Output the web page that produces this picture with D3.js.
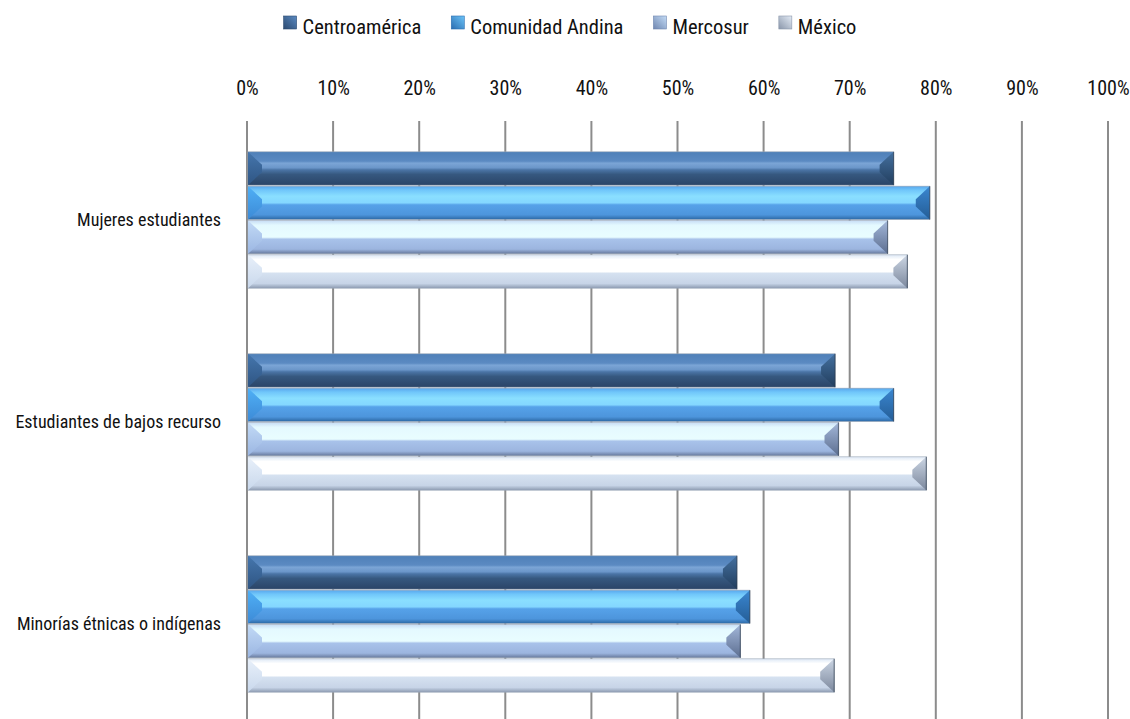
<!DOCTYPE html>
<html>
<head>
<meta charset="utf-8">
<script src="https://cdn.jsdelivr.net/npm/d3@7"></script>
<style>
  body { margin: 0; background: #fff; }
  text { font-family: "Roboto Condensed", Roboto, sans-serif; font-stretch: condensed; fill: #111; }
</style>
</head>
<body>
<svg id="chart" width="1130" height="719"></svg>
<script>
var categories = ["Mujeres estudiantes", "Estudiantes de bajos recurso", "Minorías étnicas o indígenas"];
var seriesNames = ["Centroamérica", "Comunidad Andina", "Mercosur", "México"];
var centroamerica = [0.751, 0.683, 0.569];
var comunidadAndina = [0.793, 0.751, 0.584];
var mercosur = [0.744, 0.687, 0.573];
var mexico = [0.767, 0.789, 0.682];
var tickValues = [0, 0.1, 0.2, 0.3, 0.4, 0.5, 0.6, 0.7, 0.8, 0.9, 1];

var seriesValues = [centroamerica, comunidadAndina, mercosur, mexico];

// bevel colours per series: face gradient stops, left end, right end (top/bottom)
var looks = [
  { face: [["0%", "#4f80b8"], ["28%", "#5b8ac2"], ["34%", "#7ba5d6"], ["48%", "#6b96c9"], ["54%", "#4b75a6"], ["68%", "#36587f"], ["100%", "#2a4467"]],
    left: ["#4576ad", "#2f5583"], right: ["#44709f", "#223e5e"] },
  { face: [["0%", "#58a6ec"], ["12%", "#70c6fa"], ["30%", "#8adfff"], ["50%", "#84d7ff"], ["56%", "#56a2e9"], ["86%", "#4d95dc"], ["100%", "#2c68a4"]],
    left: ["#4fb0f6", "#3d8ad6"], right: ["#3a86d0", "#245d96"] },
  { face: [["0%", "#c6dcf5"], ["14%", "#e4f9ff"], ["50%", "#e9fdff"], ["56%", "#a8c2ea"], ["86%", "#9cb5df"], ["100%", "#65779a"]],
    left: ["#c2daf6", "#9bb6e2"], right: ["#a3b7d9", "#5c6e90"] },
  { face: [["0%", "#dde8f5"], ["14%", "#ffffff"], ["50%", "#ffffff"], ["56%", "#d5e1f0"], ["86%", "#c7d4e7"], ["100%", "#8d9bb1"]],
    left: ["#e8f0fa", "#c9d8ec"], right: ["#cbd5e3", "#7c889d"] }
];
var legendDark = ["#2c4a70", "#2a6cb0", "#6f86b0", "#8a96aa"];
var legendLight = ["#5b8ac2", "#6cc4f8", "#c4dcf6", "#e4ecf6"];

var svg = d3.select("#chart");
var defs = svg.append("defs");

looks.forEach(function (lk, i) {
  var g = defs.append("linearGradient").attr("id", "face" + i)
    .attr("x1", 0).attr("y1", 0).attr("x2", 0).attr("y2", 1);
  lk.face.forEach(function (s) { g.append("stop").attr("offset", s[0]).attr("stop-color", s[1]); });
  ["left", "right"].forEach(function (side) {
    var e = defs.append("linearGradient").attr("id", side + i)
      .attr("x1", 0).attr("y1", 0).attr("x2", 0).attr("y2", 1);
    e.append("stop").attr("offset", "0%").attr("stop-color", lk[side][0]);
    e.append("stop").attr("offset", "100%").attr("stop-color", lk[side][1]);
  });
  var m = defs.append("linearGradient").attr("id", "mark" + i)
    .attr("x1", 0).attr("y1", 1).attr("x2", 1).attr("y2", 0);
  m.append("stop").attr("offset", "0%").attr("stop-color", legendDark[i]);
  m.append("stop").attr("offset", "100%").attr("stop-color", legendLight[i]);
});

var x = d3.scaleLinear().domain([0, 1]).range([247, 1108]);
var y = d3.scaleBand().domain(categories).range([119, 725]).paddingInner(0.32).paddingOuter(0.16);
var ys = d3.scaleBand().domain(seriesNames).range([0, y.bandwidth()]);

// grid lines
svg.append("g")
  .selectAll("line")
  .data(tickValues)
  .enter().append("line")
  .attr("x1", function (d) { return x(d); })
  .attr("x2", function (d) { return x(d); })
  .attr("y1", 121)
  .attr("y2", 725)
  .attr("stroke", "#8c8c8c")
  .attr("stroke-width", 2);

// top tick labels
var xAxis = svg.append("g")
  .attr("transform", "translate(0,121)")
  .call(d3.axisTop(x).tickValues(tickValues).tickFormat(d3.format(".0%")).tickSize(0).tickPadding(26));
xAxis.select(".domain").remove();
xAxis.selectAll("text").style("font-size", "20px").attr("fill", "#111")
  .style("font-family", "'Roboto Condensed', Roboto, sans-serif");

// category labels
var yAxis = svg.append("g")
  .attr("transform", "translate(221,0)")
  .call(d3.axisLeft(y).tickSize(0).tickPadding(0));
yAxis.select(".domain").remove();
yAxis.selectAll("text").style("font-size", "18px").attr("fill", "#111")
  .style("font-family", "'Roboto Condensed', Roboto, sans-serif");

// bars
var bars = [];
categories.forEach(function (c, ci) {
  seriesNames.forEach(function (s, si) {
    bars.push({ cat: c, series: s, si: si, value: seriesValues[si][ci] });
  });
});

var barG = svg.append("g").selectAll("g.bar")
  .data(bars)
  .enter().append("g")
  .attr("class", "bar");

function geom(d) {
  var x0 = x(0) + 1, x1 = x(d.value);
  var y0 = y(d.cat) + ys(d.series) + 0.5, y1 = y0 + ys.bandwidth() - 1;
  var b = Math.min(14, (x1 - x0) / 2);
  var bv = Math.min(13, (y1 - y0) / 2 - 1);
  return { x0: x0, x1: x1, y0: y0, y1: y1, b: b, bv: bv };
}

barG.append("rect")
  .attr("x", function (d) { return geom(d).x0; })
  .attr("y", function (d) { return geom(d).y0; })
  .attr("width", function (d) { var g = geom(d); return g.x1 - g.x0; })
  .attr("height", function (d) { var g = geom(d); return g.y1 - g.y0; })
  .attr("fill", function (d) { return "url(#face" + d.si + ")"; })
  .attr("stroke", "#9aa6b6")
  .attr("stroke-width", 0.6);

barG.append("polygon")
  .attr("points", function (d) {
    var g = geom(d);
    return [[g.x0, g.y0], [g.x0 + g.b, g.y0 + g.bv], [g.x0 + g.b, g.y1 - g.bv], [g.x0, g.y1]].join(" ");
  })
  .attr("fill", function (d) { return "url(#left" + d.si + ")"; });

barG.append("polygon")
  .attr("points", function (d) {
    var g = geom(d);
    return [[g.x1, g.y0], [g.x1, g.y1], [g.x1 - g.b, g.y1 - g.bv], [g.x1 - g.b, g.y0 + g.bv]].join(" ");
  })
  .attr("fill", function (d) { return "url(#right" + d.si + ")"; });

barG.append("line")
  .attr("x1", function (d) { return geom(d).x1; })
  .attr("x2", function (d) { return geom(d).x1; })
  .attr("y1", function (d) { return geom(d).y0; })
  .attr("y2", function (d) { return geom(d).y1; })
  .attr("stroke", "#2d3b4d")
  .attr("stroke-opacity", 0.6)
  .attr("stroke-width", 1.2);

// legend
var legend = svg.append("g");
var items = legend.selectAll("g")
  .data(seriesNames)
  .enter().append("g");

items.append("rect")
  .attr("width", 13).attr("height", 13)
  .attr("y", -18)
  .attr("fill", function (d, i) { return "url(#mark" + i + ")"; })
  .attr("stroke", function (d, i) { return legendDark[i]; })
  .attr("stroke-width", 0.6);
items.append("text")
  .attr("x", 19)
  .attr("y", 0)
  .style("font-size", "20.5px")
  .text(function (d) { return d; });

var pos = 0;
items.each(function () {
  var w = 19 + d3.select(this).select("text").node().getComputedTextLength();
  d3.select(this).attr("transform", "translate(" + pos + ",0)");
  pos += w + 30;
});
var total = pos - 30;
legend.attr("transform", "translate(" + (570 - total / 2) + ",34)");
</script>
</body>
</html>
